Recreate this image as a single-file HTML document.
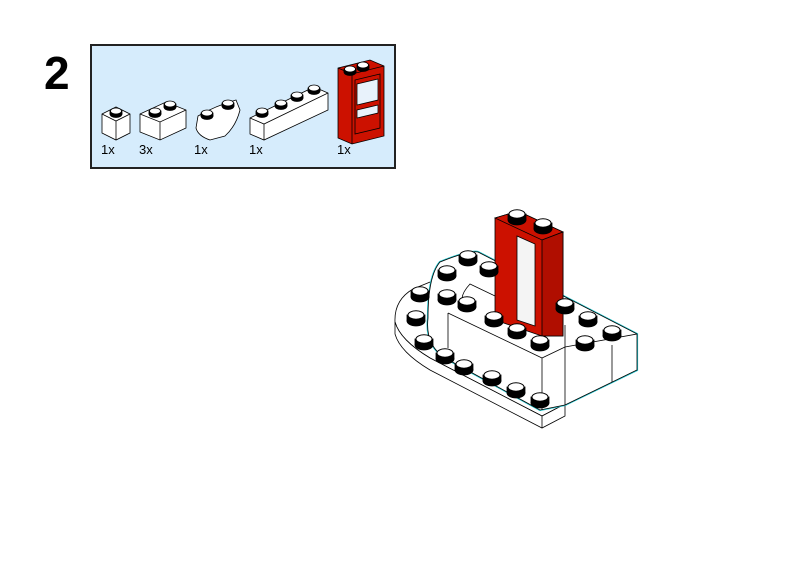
<!DOCTYPE html>
<html><head><style>
html,body{margin:0;padding:0;background:#fff;width:800px;height:566px;overflow:hidden}
svg{display:block}
text{font-family:"Liberation Sans",sans-serif}
</style></head><body>
<svg width="800" height="566" viewBox="0 0 800 566" xmlns="http://www.w3.org/2000/svg">
<defs>
<g id="stud"><ellipse cx="0" cy="4" rx="9" ry="5" fill="#000"/><rect x="-9" y="-2" width="18" height="6" fill="#000"/><ellipse cx="0" cy="-2" rx="8" ry="4.2" fill="#fff" stroke="#000" stroke-width="1"/></g>
<g id="ss"><ellipse cx="0" cy="2" rx="6" ry="3.5" fill="#000"/><rect x="-6" y="-1" width="12" height="3" fill="#000"/><ellipse cx="0" cy="-1" rx="5.5" ry="3" fill="#fff" stroke="#000" stroke-width="0.8"/></g>
</defs>
<text x="44" y="89" font-size="46" font-weight="bold" fill="#000">2</text>
<rect x="91" y="45" width="304" height="123" fill="#d6ecfc" stroke="#222" stroke-width="2"/>
<g stroke="#000" stroke-width="0.8" fill="#fff">
 <polygon points="102,114 116,107 130,114 130,133 116,140 102,133"/>
 <polyline points="102,114 116,121 130,114" fill="none"/><line x1="116" y1="121" x2="116" y2="140"/>
 <use href="#ss" x="116" y="112"/>
 <polygon points="140,114 166,102 186,110 186,128 160,140 140,132"/>
 <polyline points="140,114 160,122 186,110" fill="none"/><line x1="160" y1="122" x2="160" y2="140"/>
 <use href="#ss" x="155" y="112"/><use href="#ss" x="170" y="105"/>
 <path d="M198,116 Q215,106 236,100 L240,110 Q236,126 225,136 L210,140 Q198,136 196,128 Z"/>
 <use href="#ss" x="207" y="114"/><use href="#ss" x="228" y="104"/>
 <polygon points="250,118 314,87 328,93 328,110 264,140 250,134"/>
 <polyline points="250,118 264,124 328,93" fill="none"/><line x1="264" y1="124" x2="264" y2="140"/>
 <use href="#ss" x="262" y="112"/><use href="#ss" x="281" y="104"/><use href="#ss" x="297" y="96"/><use href="#ss" x="314" y="89"/>
 <polygon points="338,68 370,60 384,66 384,136 352,144 338,138" fill="#cc1100"/>
 <polyline points="338,68 352,74 384,66" fill="none"/><line x1="352" y1="74" x2="352" y2="144"/>
 <polygon points="355,80 380,74 380,128 355,134" fill="#cc1100"/>
 <polygon points="357,84 378,79 378,100 357,105" fill="#e8f2fb"/>
 <polygon points="357,110 378,105 378,113 357,118" fill="#e8f2fb"/>
 <use href="#ss" x="350" y="70"/><use href="#ss" x="363" y="66"/>
</g>
<g font-size="13" fill="#000">
 <text x="101" y="154">1x</text><text x="139" y="154">3x</text><text x="194" y="154">1x</text><text x="249" y="154">1x</text><text x="337" y="154">1x</text>
</g>
<g stroke="#000" stroke-width="0.8" fill="#fff">
 <path d="M413,289 L440,278 L560,340 L565,404 L542,416 L430,358 Q400,340 395,322 Q394,300 413,289 Z"/>
 <path d="M395,322 L395,334 Q400,352 430,370 L542,428 L565,416 L565,404 L542,416 L430,358 Q400,340 395,322 Z"/>
 <line x1="542" y1="416" x2="542" y2="428"/>
 <path d="M440,262 Q470,250 478,252 L637,334 L637,370 L565,405 L540,410 L445,358 Q425,345 428,318 Q428,276 440,262 Z" stroke="#26c8d0" stroke-width="2.2"/>
 <path d="M440,262 Q470,250 478,252 L637,334 L637,370 L565,405 L540,410 L445,358 Q425,345 428,318 Q428,276 440,262 Z"/>
 <path d="M468,310 Q455,300 470,284 L520,308" fill="none"/>
 <line x1="448" y1="313" x2="542" y2="358"/><line x1="448" y1="313" x2="448" y2="348"/>
 <line x1="542" y1="358" x2="542" y2="410"/><line x1="542" y1="358" x2="565" y2="347"/>
 <line x1="565" y1="347" x2="565" y2="405"/><line x1="565" y1="347" x2="637" y2="334"/>
 <line x1="612" y1="345" x2="612" y2="382"/>
 <line x1="565" y1="325" x2="565" y2="347"/>
 <polygon points="495,218 518,211 563,232 563,336 542,336 495,320" fill="#cc1100" stroke="#000"/>
 <polygon points="495,218 518,211 563,232 542,240" fill="#cc1100"/>
 <polygon points="542,240 563,232 563,336 542,336" fill="#b00e00"/>
 <polygon points="517,236 535,244 535,326 517,320" fill="#f4f4f4"/>
 <use href="#stud" x="517" y="216"/><use href="#stud" x="543" y="225"/>
 <use href="#stud" x="468" y="257"/><use href="#stud" x="447" y="272"/><use href="#stud" x="489" y="268"/>
 <use href="#stud" x="447" y="296"/><use href="#stud" x="467" y="303"/>
 <use href="#stud" x="420" y="293"/><use href="#stud" x="416" y="317"/><use href="#stud" x="424" y="341"/>
 <use href="#stud" x="445" y="355"/><use href="#stud" x="464" y="366"/><use href="#stud" x="492" y="377"/><use href="#stud" x="516" y="389"/><use href="#stud" x="540" y="399"/>
 <use href="#stud" x="494" y="318"/><use href="#stud" x="517" y="330"/><use href="#stud" x="540" y="342"/>
 <use href="#stud" x="565" y="305"/><use href="#stud" x="588" y="318"/><use href="#stud" x="612" y="332"/><use href="#stud" x="585" y="342"/>
</g>
</svg>
</body></html>
